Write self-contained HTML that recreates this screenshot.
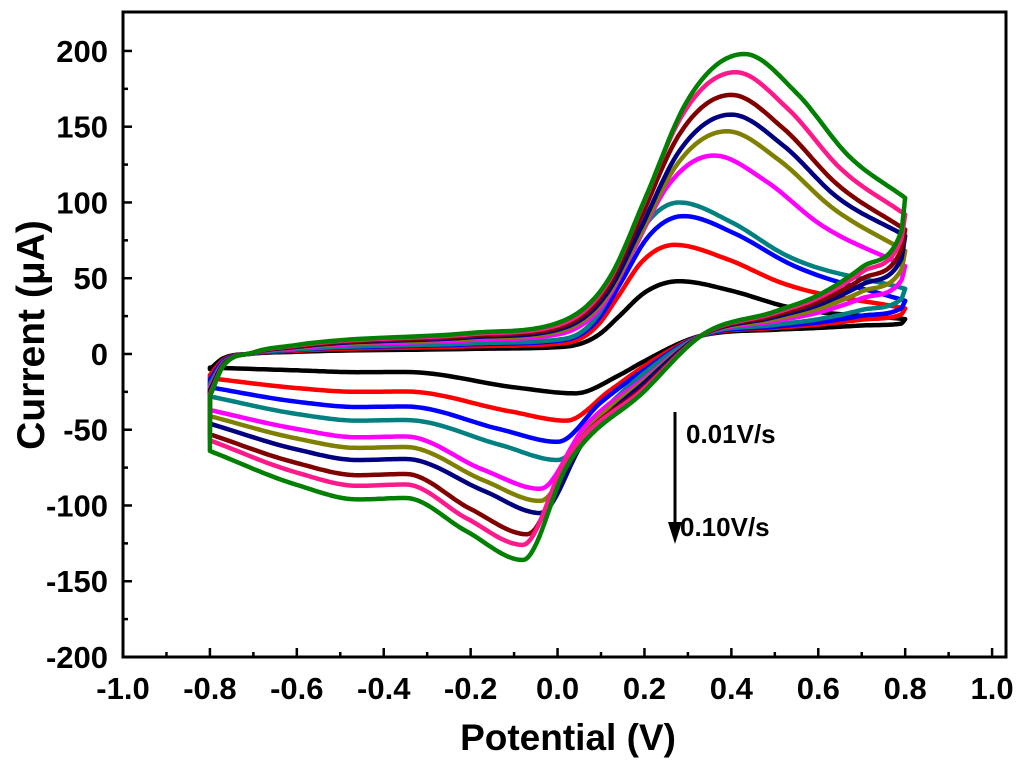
<!DOCTYPE html>
<html><head><meta charset="utf-8"><style>
body{margin:0;background:#fff;}
svg text{font-family:"Liberation Sans",Arial,sans-serif;font-weight:bold;fill:#000;}
</style></head><body>
<svg id="chart" width="1024" height="765" viewBox="0 0 1024 765" xmlns="http://www.w3.org/2000/svg">
<g id="plot"></g>
<g id="axes"></g>
<text x="568" y="750" font-size="37" text-anchor="middle">Potential (V)</text>
<text transform="translate(44,335) rotate(-90)" font-size="39" text-anchor="middle">Current (μA)</text>
<g>
<line x1="675" y1="412" x2="675" y2="528" stroke="#000" stroke-width="3"/>
<polygon points="668,522 682,522 675,544" fill="#000"/>
</g>
<text x="686" y="443" font-size="26">0.01V/s</text>
<text x="680" y="536" font-size="26">0.10V/s</text>
</svg>
<script>
const colors=["#000000","#ff0000","#0000ff","#008080","#ff00ff","#808000","#000080","#800000","#ff1a8c","#008000"];
const scanRates=["0.01","0.02","0.03","0.04","0.05","0.06","0.07","0.08","0.09","0.10"];
const ipa=[48,72,91,100,131,147,158,171,186,198];
const epa=[0.28,0.27,0.29,0.28,0.36,0.39,0.40,0.40,0.41,0.43];
const ipc=[-26,-44,-58,-70,-89,-97,-105,-119,-126,-136];
const epc=[0.04,0.02,0.0,0.0,-0.04,-0.04,-0.04,-0.07,-0.08,-0.08];
const shoulder=[-12,-25,-35,-44,-55,-62,-70,-80,-87,-96];
const fStart=[-10,-14,-17,-20,-22,-23,-24,-26,-27,-28];
const rStart=[-9,-16,-22,-28,-37,-41,-46,-53,-57,-64];
const fEnd=[23,30,35,43,58,68,78,82,92,103];
const rEnd=[20,26,30,36,48,55,62,68,75,80];
const xTicks=[-1.0,-0.8,-0.6,-0.4,-0.2,0.0,0.2,0.4,0.6,0.8,1.0];
const yTicks=[-200,-150,-100,-50,0,50,100,150,200];

const X0=123,X1=1006,Y0=657,Y1=12;
const xmin=-1.0,xmax=1.032,ymin=-200,ymax=225.7;
const sx=v=>X0+(v-xmin)/(xmax-xmin)*(X1-X0);
const sy=v=>Y0-(v-ymin)/(ymax-ymin)*(Y0-Y1);
const NS="http://www.w3.org/2000/svg";
function mk(t,a){const e=document.createElementNS(NS,t);for(const k in a)e.setAttribute(k,a[k]);return e;}
function smoothInterp(pts,n){
  const N=pts.length,xs=pts.map(p=>p[0]),ys=pts.map(p=>p[1]);
  const h=[],dl=[];
  for(let i=0;i<N-1;i++){h.push(xs[i+1]-xs[i]);dl.push((ys[i+1]-ys[i])/h[i]);}
  const m=new Array(N);
  m[0]=dl[0];m[N-1]=dl[N-2];
  for(let i=1;i<N-1;i++){
    if(dl[i-1]*dl[i]<=0)m[i]=0;
    else{
      let v=(dl[i-1]*h[i]+dl[i]*h[i-1])/(h[i-1]+h[i]);
      const lim=3*Math.min(Math.abs(dl[i-1]),Math.abs(dl[i]));
      if(Math.abs(v)>lim)v=Math.sign(v)*lim;
      m[i]=v;
    }
  }
  const out=[];
  for(let i=0;i<N-1;i++){
    for(let k=0;k<n;k++){
      const t=k/n,t2=t*t,t3=t2*t;
      const y=(2*t3-3*t2+1)*ys[i]+(t3-2*t2+t)*h[i]*m[i]+(-2*t3+3*t2)*ys[i+1]+(t3-t2)*h[i]*m[i+1];
      out.push([xs[i]+t*h[i],y]);
    }
  }
  out.push(pts[N-1]);
  return out;
}
const plot=document.getElementById("plot");
for(let i=0;i<ipa.length;i++){
  const A=ipa[i],Ea=epa[i],w=Ea-0.05;
  const fwd=[[-0.8,fStart[i]],[-0.77,0.3*fStart[i]],[-0.7,0.005*A],[-0.6,0.03*A],[-0.2,0.07*A],
    [Ea-1.15*w,0.1*A],[Ea-0.8*w,0.27*A],[Ea-0.6*w,0.52*A],[Ea-0.35*w,0.84*A],[Ea,A],
    [Ea+0.12,0.87*A],[Ea+0.24,0.66*A],[0.8,fEnd[i]]];
  const C=ipc[i],Ec=epc[i],S=shoulder[i];
  const revAsc=[[-0.8,rStart[i]],[-0.6,0.9*S],[-0.46,S],[-0.35,0.99*S],[Ec-0.13,0.86*C],[Ec,C],[Ec+0.1,0.55*C],[0.2,0.18*C],[0.33,12],[0.5,0.2*rEnd[i]+12],[0.6,0.36*rEnd[i]+10],[0.7,0.64*rEnd[i]+6],[0.79,rEnd[i]],[0.8,fEnd[i]]];
  const f=smoothInterp(fwd,16);
  const r=smoothInterp(revAsc,16).reverse();
  const all=f.concat(r);
  const d="M"+all.map(p=>sx(p[0]).toFixed(1)+","+sy(p[1]).toFixed(1)).join(" L")+" Z";
  const p=mk("path",{d:d,fill:"none",stroke:colors[i],"stroke-width":4.5,"stroke-linejoin":"round"});
  
  
  plot.appendChild(p);
}
const axes=document.getElementById("axes");
const fr=mk("rect",{x:X0,y:Y1,width:X1-X0,height:Y0-Y1,fill:"none",stroke:"#000","stroke-width":3});


axes.appendChild(fr);
xTicks.forEach((v,k)=>{
  const x=sx(v);
  axes.appendChild(mk("line",{x1:x,y1:Y0,x2:x,y2:Y0-9,stroke:"#000","stroke-width":2.5}));
  if(k<xTicks.length-1){const xm=sx(v+0.1);axes.appendChild(mk("line",{x1:xm,y1:Y0,x2:xm,y2:Y0-5,stroke:"#000","stroke-width":2.5}));}
  const t=mk("text",{x:x,y:699,"font-size":31,"text-anchor":"middle"});
  t.textContent=v.toFixed(1);
  
  
  axes.appendChild(t);
});
yTicks.forEach((v,k)=>{
  const y=sy(v);
  axes.appendChild(mk("line",{x1:X0,y1:y,x2:X0+9,y2:y,stroke:"#000","stroke-width":2.5}));
  if(k<yTicks.length-1){const ym=sy(v+25);axes.appendChild(mk("line",{x1:X0,y1:ym,x2:X0+5,y2:ym,stroke:"#000","stroke-width":2.5}));}
  const t=mk("text",{x:108,y:y+11,"font-size":31,"text-anchor":"end"});
  t.textContent=String(v);
  
  
  axes.appendChild(t);
});
</script>
</body></html>
